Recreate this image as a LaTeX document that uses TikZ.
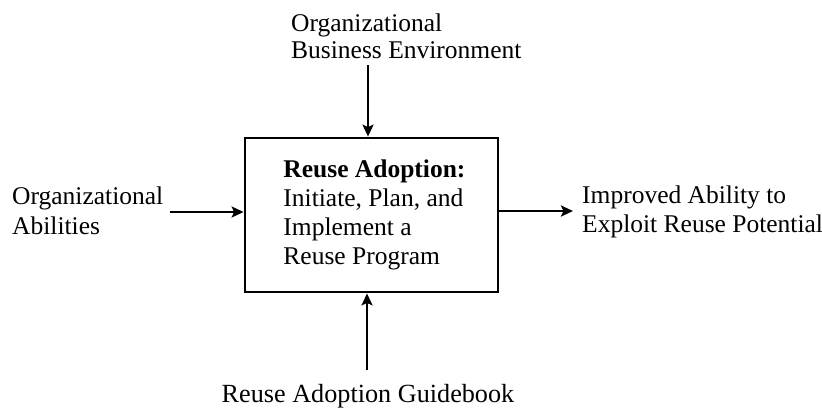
\documentclass[tikz,border=0pt]{standalone}
\usepackage{fontspec}
\setmainfont{Liberation Serif}
\usetikzlibrary{arrows.meta}
\begin{document}
\begin{tikzpicture}[x=1pt,y=-1pt,
  lbl/.style={inner sep=0pt,font=\fontsize{25.5}{29}\selectfont,align=left},
  conn/.style={line width=2.6pt,-{Stealth[length=12pt,width=11pt,inset=2.5pt]}},
  proc/.style={draw,line width=2.8pt,minimum width=253pt,minimum height=154pt,inner sep=0pt,font=\fontsize{25.5}{29}\selectfont,align=left}]
\useasboundingbox (0,0) rectangle (822,408);
\node[proc] (box) at (371.5,215) {\hspace*{6pt}\textbf{Reuse Adoption:}\\\hspace*{6pt}Initiate, Plan, and\\\hspace*{6pt}Implement a\\\hspace*{6pt}Reuse Program};
\node[lbl,anchor=west,font=\fontsize{25.5}{27}\selectfont] (top) at (291,36.5) {Organizational\\Business Environment};
\node[lbl,anchor=west,font=\fontsize{25.5}{30}\selectfont] (left) at (12,211) {Organizational\\Abilities};
\node[lbl,anchor=west] (right) at (582,211.5) {Improved Ability to\\Exploit Reuse Potential};
\node[lbl,anchor=center,font=\fontsize{26.2}{29}\selectfont] (bottom) at (368,396) {Reuse Adoption Guidebook};
\coordinate (tin) at (368,65);
\coordinate (lin) at (170,212);
\coordinate (rout) at (573,211);
\coordinate (bin) at (367,370);
\draw[conn] (tin) -- (tin |- box.north);
\draw[conn] (lin) -- (lin -| box.west);
\draw[conn] (rout -| box.east) -- (rout);
\draw[conn] (bin) -- (bin |- box.south);
\end{tikzpicture}
\end{document}
